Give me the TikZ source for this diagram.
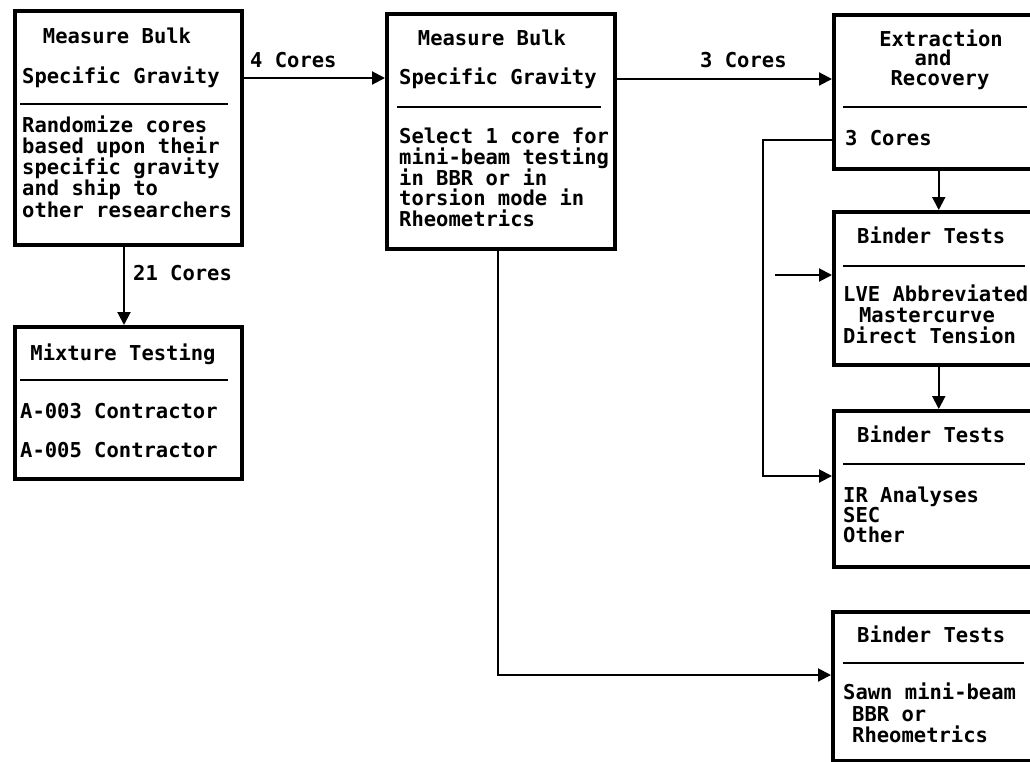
\documentclass[tikz,border=0pt]{standalone}
\usepackage{fontspec}
\setmainfont{DejaVu Sans Mono}
\usetikzlibrary{arrows.meta}
\begin{document}
\begin{tikzpicture}[x=1pt,y=-1pt,
  box/.style={draw=black,line width=3.5pt,inner sep=0pt,anchor=north west},
  lbl/.style={inner sep=0pt,font=\fontsize{20.5}{21}\selectfont\bfseries,anchor=mid west,yshift=-3pt},
  clbl/.style={inner sep=0pt,font=\fontsize{20.5}{21}\selectfont\bfseries,anchor=mid,yshift=-3pt},
  divider/.style={line width=2pt},
  arr/.style={line width=2pt,-{Triangle[length=13pt,width=13pt]}},
  conn/.style={line width=2pt}]
\useasboundingbox (0,0) rectangle (1030,761);
\clip (0,0) rectangle (1030,761);
\fill[white] (0,0) rectangle (1030,761);
% Box 1
\node[box,minimum width=227pt,minimum height=234pt] (b1) at (13,9) {};
\node[clbl] (t1a) at (117,38) {Measure Bulk};
\node[lbl] (t1b) at (22,78) {Specific Gravity};
\draw[divider] (20,104) -- (228,104);
\node[lbl] (t1c) at (22,127) {Randomize cores};
\node[lbl] (t1d) at (22,148) {based upon their};
\node[lbl] (t1e) at (22,169) {specific gravity};
\node[lbl] (t1f) at (22,190) {and ship to};
\node[lbl] (t1g) at (22,212) {other researchers};
% Box 7
\node[box,minimum width=227pt,minimum height=152pt] (b7) at (13,325) {};
\node[clbl] (t7a) at (123,355) {Mixture Testing};
\draw[divider] (20,380) -- (228,380);
\node[lbl] (t7b) at (20,413) {A-003 Contractor};
\node[lbl] (t7c) at (20,452) {A-005 Contractor};
% Box 2
\node[box,minimum width=228pt,minimum height=235pt] (b2) at (385,12) {};
\node[clbl] (t2a) at (492,40) {Measure Bulk};
\node[lbl] (t2b) at (399,79) {Specific Gravity};
\draw[divider] (397,107) -- (601,107);
\node[lbl] (t2c) at (399,138) {Select 1 core for};
\node[lbl] (t2d) at (399,159) {mini-beam testing};
\node[lbl] (t2e) at (399,180) {in BBR or in};
\node[lbl] (t2f) at (399,200) {torsion mode in};
\node[lbl] (t2g) at (399,221) {Rheometrics};
% Box 3
\node[box,minimum width=210pt,minimum height=154pt] (b3) at (832,13) {};
\node[clbl] (t3a) at (941,41) {Extraction};
\node[clbl] (t3b) at (933,60) {and};
\node[clbl] (t3c) at (940,80) {Recovery};
\draw[divider] (843,107) -- (1027,107);
\node[lbl] (t3d) at (845,140) {3 Cores};
% Box 4
\node[box,minimum width=210pt,minimum height=153pt] (b4) at (832,210) {};
\node[lbl] (t4a) at (857,238) {Binder Tests};
\draw[divider] (843,266) -- (1025,266);
\node[lbl] (t4b) at (843,296) {LVE Abbreviated};
\node[clbl] (t4c) at (927,317) {Mastercurve};
\node[lbl] (t4d) at (843,338) {Direct Tension};
% Box 5
\node[box,minimum width=210pt,minimum height=156pt] (b5) at (832,409) {};
\node[lbl] (t5a) at (857,437) {Binder Tests};
\draw[divider] (843,464) -- (1025,464);
\node[lbl] (t5b) at (843,497) {IR Analyses};
\node[lbl] (t5c) at (843,517) {SEC};
\node[lbl] (t5d) at (843,537) {Other};
% Box 6
\node[box,minimum width=211pt,minimum height=149pt] (b6) at (831,610) {};
\node[lbl] (t6a) at (857,637) {Binder Tests};
\draw[divider] (843,663) -- (1024,663);
\node[lbl] (t6b) at (843,694) {Sawn mini-beam};
\node[lbl] (t6c) at (852,716) {BBR or};
\node[lbl] (t6d) at (852,737) {Rheometrics};
% Connectors
\coordinate (ya) at (0,78);
\coordinate (yb) at (0,79);
\draw[arr] (b1.east |- ya) -- (b2.west |- ya);
\node[lbl] (l1) at (250,62) {4 Cores};
\draw[arr] (b2.east |- yb) -- (b3.west |- yb);
\node[lbl] (l2) at (700,62) {3 Cores};
\coordinate (j0) at (124,0);
\draw[arr] (b1.south -| j0) -- (b7.north -| j0);
\node[lbl] (l3) at (133,275) {21 Cores};
\draw[arr] (b3.south) -- (b4.north);
\draw[arr] (b4.south) -- (b5.north);
\coordinate (yc) at (0,140);
\coordinate (j1) at (763,476);
\draw[arr] (b3.west |- yc) -| (j1) -- (b5.west |- j1);
\coordinate (j2) at (775,275);
\draw[arr] (j2) -- (b4.west |- j2);
\coordinate (j3) at (498,675);
\draw[arr] (b2.south -| j3) -- (j3) -- (b6.west |- j3);
\end{tikzpicture}
\end{document}
